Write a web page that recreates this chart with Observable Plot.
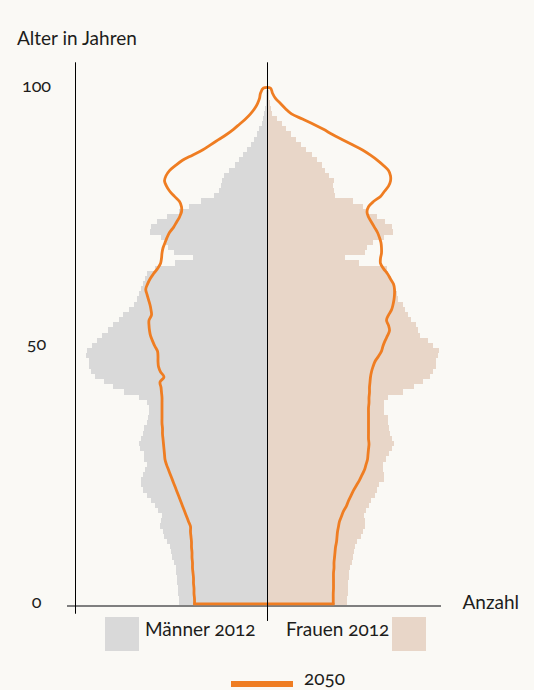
<!DOCTYPE html>
<html>
<head>
<meta charset="utf-8">
<script src="https://cdn.jsdelivr.net/npm/d3@7"></script>
<script src="https://cdn.jsdelivr.net/npm/@observablehq/plot@0.6"></script>
<style>
html, body { margin: 0; padding: 0; background: #faf9f5; }
#wrap { position: relative; width: 534px; height: 690px; overflow: hidden;
  font-family: Lato, "Noto Sans", sans-serif; color: #1d1d1b;
  font-variant-numeric: oldstyle-nums; font-feature-settings: "onum" 1; }
#chart { position: absolute; left: 0; top: 0; }
.t { position: absolute; font-size: 19px; line-height: 19px; white-space: nowrap; }
.sw { position: absolute; }
</style>
</head>
<body>
<div id="wrap">
  <div id="chart"></div>
  <div class="t" style="left:17px;top:28px">Alter in Jahren</div>
  <div class="sw" style="left:105px;top:617px;width:34px;height:34px;background:#d9d9d9"></div>
  <div class="t" style="left:145px;top:618.6px">Männer 2012</div>
  <div class="t" style="left:286px;top:618.6px">Frauen 2012</div>
  <div class="sw" style="left:392px;top:617px;width:34px;height:34px;background:#e8d6c8"></div>
  <div class="sw" style="left:231px;top:681px;width:62px;height:6px;background:#ef7d22"></div>
  <div class="t" style="left:304px;top:668px">2050</div>
</div>
<script>
// Alter (Jahre) 0..100
const ages = Array.from({length: 101}, (_, i) => i);

// Bevölkerung 2012 in Tausend, Männer, Alter 0..100
const maenner2012 = [
  352, 352, 356, 356, 360, 360, 364, 364, 372, 380,
  384, 388, 400, 412, 416, 428, 424, 420, 436, 448,
  464, 480, 496, 504, 504, 496, 488, 480, 492, 492,
  508, 512, 504, 496, 492, 480, 476, 472, 472, 480,
  512, 572, 616, 652, 688, 704, 712, 712, 724, 720,
  700, 680, 660, 636, 616, 592, 576, 552, 532, 520,
  512, 504, 496, 488, 480, 448, 368, 296, 372, 396,
  404, 424, 468, 464, 440, 400, 352, 312, 264, 212,
  192, 184, 180, 172, 152, 128, 112, 96, 80, 64,
  52, 40, 32, 20, 16, 12, 8, 6, 4, 3, 2
];
// Bevölkerung 2012 in Tausend, Frauen, Alter 0..100
const frauen2012 = [
  320, 320, 324, 324, 324, 328, 328, 332, 340, 344,
  348, 352, 360, 376, 384, 392, 392, 388, 396, 408,
  416, 432, 440, 448, 468, 468, 464, 464, 476, 488,
  500, 508, 500, 492, 488, 484, 484, 468, 468, 468,
  484, 544, 588, 624, 652, 664, 676, 676, 684, 688,
  664, 644, 612, 604, 596, 576, 564, 552, 544, 524,
  520, 508, 504, 496, 484, 480, 368, 312, 392, 400,
  424, 468, 504, 500, 472, 440, 404, 384, 344, 272,
  268, 264, 268, 248, 232, 220, 200, 180, 156, 136,
  116, 96, 76, 60, 40, 20, 16, 12, 8, 6, 4
];
// Vorausberechnung 2050 in Tausend, Männer, Alter 0..100
const maenner2050 = [
  292, 292, 294, 294, 296, 296, 298, 300, 300, 302,
  302, 304, 304, 306, 308, 308, 316, 324, 332, 340,
  348, 356, 364, 372, 380, 388, 396, 404, 410, 412,
  414, 416, 418, 420, 420, 422, 422, 422, 422, 422,
  422, 424, 426, 430, 414, 428, 436, 438, 438, 440,
  451, 460, 468, 472, 474, 474, 464, 466, 470, 476,
  482, 487, 480, 470, 456, 440, 428, 424, 422, 418,
  410, 402, 392, 376, 364, 352, 344, 344, 352, 372,
  391, 404, 412, 406, 392, 368, 340, 300, 260, 228,
  196, 164, 136, 112, 88, 68, 52, 40, 32, 28, 16
];
// Vorausberechnung 2050 in Tausend, Frauen, Alter 0..100
const frauen2050 = [
  263, 263, 263, 264, 264, 264, 264, 266, 266, 268,
  270, 272, 276, 278, 280, 284, 288, 296, 304, 316,
  324, 334, 344, 356, 368, 378, 388, 394, 400, 402,
  404, 406, 404, 404, 404, 404, 404, 404, 404, 406,
  406, 408, 408, 410, 412, 416, 422, 430, 444, 456,
  462, 470, 480, 488, 484, 476, 484, 496, 502, 506,
  508, 508, 504, 492, 480, 464, 452, 452, 456, 456,
  454, 448, 440, 428, 416, 404, 398, 404, 424, 452,
  468, 484, 492, 492, 484, 464, 440, 412, 380, 340,
  300, 260, 224, 184, 140, 96, 72, 52, 32, 20, 12
];

const yTicks = [0, 50, 100];
const xMax = 768;            // Anzahl-Achse (Tausend) je Seite
const axisTop = 104.9;       // obere Enden der senkrechten Linien (Alter)
const centerBottom = -3.4;
const leftBottom = -2.0;
const baseAge = -0.4;        // Grundlinie
const baseFrom = -800, baseTo = 696;

const rows = ages.map(a => ({age: a, m: maenner2012[a], f: frauen2012[a]}));
// smooth outline: Männer 0 -> 100, over the top, Frauen 100 -> 0
const outline = [
  ...ages.map(a => ({x: -maenner2050[a], y: a})),
  ...ages.slice().reverse().map(a => ({x: frauen2050[a], y: a}))
];
// straight bottom segment at age 0
const bottom = [
  {x: -maenner2050[0], y: 0},
  {x: frauen2050[0], y: 0}
];

const chart = Plot.plot({
  width: 534,
  height: 690,
  marginLeft: 75,
  marginRight: 75,
  marginTop: 85,
  marginBottom: 84,
  x: {domain: [-xMax, xMax], axis: null},
  y: {domain: [-0.5, 100.5], axis: null},
  style: {background: "transparent", fontFamily: "Lato, 'Noto Sans', sans-serif", fontSize: "18px", color: "#1d1d1b", overflow: "visible"},
  marks: [
    Plot.rect(rows, {x1: 0, x2: d => -d.m, y1: d => d.age - 0.5, y2: d => d.age + 0.5, fill: "#d9d9d9", shapeRendering: "crispEdges"}),
    Plot.rect(rows, {x1: 0, x2: d => d.f, y1: d => d.age - 0.5, y2: d => d.age + 0.5, fill: "#e8d6c8", shapeRendering: "crispEdges"}),
    Plot.ruleY([baseAge], {x1: baseFrom, x2: baseTo, stroke: "#7f7f7f", strokeWidth: 2}),
    Plot.line(outline, {x: "x", y: "y", curve: "catmull-rom", stroke: "#ef7d22", strokeWidth: 2.8, strokeLinejoin: "round", strokeLinecap: "round"}),
    Plot.line(bottom, {x: "x", y: "y", curve: "linear", stroke: "#ef7d22", strokeWidth: 2.8, strokeLinecap: "round"}),
    Plot.ruleX([0], {y1: axisTop, y2: centerBottom, stroke: "#000", strokeWidth: 1}),
    Plot.ruleX([-xMax], {y1: axisTop, y2: leftBottom, stroke: "#000", strokeWidth: 1}),
    Plot.text(yTicks, {y: d => d, text: d => String(d), frameAnchor: "left", dx: -39, dy: -2, textAnchor: "middle", fill: "#1d1d1b"}),
    Plot.text(["Anzahl"], {y: 0.2, text: d => d, frameAnchor: "right", dx: 3, textAnchor: "start", fontSize: 19, fill: "#1d1d1b"})
  ]
});
document.getElementById("chart").appendChild(chart);
</script>
</body>
</html>
